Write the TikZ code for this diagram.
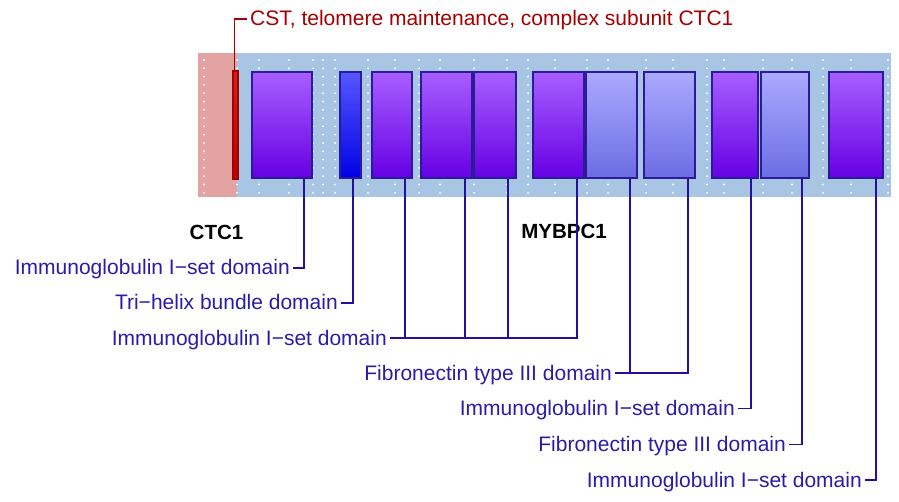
\documentclass[tikz,border=0pt]{standalone}
\usepackage{fontspec}
\setmainfont{Liberation Sans}
\definecolor{bgred}{HTML}{E4A3A3}
\definecolor{bgblue}{HTML}{A8C5E3}
\definecolor{labblue}{HTML}{2A1CA6}
\definecolor{lineblue}{HTML}{2410A0}
\definecolor{edgeblue}{HTML}{2B1B9B}
\definecolor{darkred}{HTML}{A50000}
\definecolor{purptop}{RGB}{168,94,255}
\definecolor{purpbot}{RGB}{102,0,228}
\definecolor{litetop}{RGB}{170,170,255}
\definecolor{litebot}{RGB}{108,108,228}
\definecolor{blutop}{RGB}{86,86,255}
\definecolor{blubot}{RGB}{0,0,230}
\definecolor{redtop}{RGB}{215,30,30}
\definecolor{redbot}{RGB}{190,0,0}
\tikzset{
  dombox/.style={draw=edgeblue, line width=1.6pt, inner sep=0pt, minimum height=106pt},
  purp/.style={dombox, top color=purptop, bottom color=purpbot},
  lite/.style={dombox, top color=litetop, bottom color=litebot},
  blu/.style={dombox, top color=blutop, bottom color=blubot},
  redbox/.style={draw=darkred, line width=1.2pt, inner sep=0pt, minimum height=108pt, minimum width=5pt, top color=redtop, bottom color=redbot},
  conn/.style={draw=lineblue, line width=1.8pt},
  redconn/.style={draw=darkred, line width=1.6pt},
  lab/.style={text=labblue, font=\fontsize{21}{25}\selectfont, inner xsep=3pt, inner ysep=0pt},
  gene/.style={text=black, font=\fontsize{20.5}{25}\selectfont\bfseries, inner sep=0pt},
}
\begin{document}
\begin{tikzpicture}[x=1pt,y=-1pt]
\useasboundingbox (0,0) rectangle (899,502);
% backgrounds
\fill[bgred] (198,53) rectangle (237,197);
\fill[bgblue] (237,53) rectangle (891,197);
% dots
\foreach \xx in {204,237,259,289,313,323,335,368,395,419,440,474,507,528,555,587,608,646,673,707,724,763,792,823,851,888}{
  \foreach \k in {0,...,16}{
    \fill[white] (\xx,60+8.3*\k) circle (1.05pt);
  }
}
% gene names
\node[gene, anchor=base] (g1) at (216.5,240) {CTC1};
\node[gene, anchor=base] (g2) at (564,239) {MYBPC1};
% domain boxes
\node[redbox] (b0) at (235.5,125) {};
\node[purp, minimum width=60pt] (b1) at (282,125) {};
\node[blu,  minimum width=21pt] (b2) at (350.5,125) {};
\node[purp, minimum width=40pt] (b3) at (392,125) {};
\node[purp, minimum width=51pt] (b4) at (446.5,125) {};
\node[purp, minimum width=42pt] (b5) at (495,125) {};
\node[purp, minimum width=51pt] (b6) at (558.5,125) {};
\node[lite, minimum width=51pt] (b7) at (611.5,125) {};
\node[lite, minimum width=51pt] (b8) at (669.5,125) {};
\node[purp, minimum width=46pt] (b9) at (735,125) {};
\node[lite, minimum width=48pt] (b10) at (785,125) {};
\node[purp, minimum width=54pt] (b11) at (856,125) {};
% top red label
\node[text=darkred, font=\fontsize{21}{25}\selectfont, anchor=base west, inner xsep=3pt, inner ysep=0pt] (top) at (247,26) {CST, telomere maintenance, complex subunit CTC1};
\coordinate (t0) at (234.5,19);
\draw[redconn] (b0.north -| t0) -- (t0) -- (t0 -| top.west);
% labels
\node[lab, anchor=base east] (l1) at (293,275) {Immunoglobulin I−set domain};
\node[lab, anchor=base east] (l2) at (341,310) {Tri−helix bundle domain};
\node[lab, anchor=base east] (l3) at (390,345) {Immunoglobulin I−set domain};
\node[lab, anchor=base east] (l4) at (615,380) {Fibronectin type III domain};
\node[lab, anchor=base east] (l5) at (738,415) {Immunoglobulin I−set domain};
\node[lab, anchor=base east] (l6) at (789,451) {Fibronectin type III domain};
\node[lab, anchor=base east] (l7) at (865,487) {Immunoglobulin I−set domain};
% connectors
\coordinate (c1) at (304,268);
\coordinate (c2) at (353,303);
\coordinate (c3a) at (405,338);
\coordinate (c3b) at (465,338);
\coordinate (c3c) at (508,338);
\coordinate (c3d) at (577,338);
\coordinate (c4a) at (630,373);
\coordinate (c4b) at (688,373);
\coordinate (c5) at (751,408.5);
\coordinate (c6) at (802,444.5);
\coordinate (c7) at (876,480);
\draw[conn] (b1.south -| c1) -- (c1) -- (c1 -| l1.east);
\draw[conn] (b2.south -| c2) -- (c2) -- (c2 -| l2.east);
\draw[conn] (b3.south -| c3a) -- (c3a);
\draw[conn] (b4.south -| c3b) -- (c3b);
\draw[conn] (b5.south -| c3c) -- (c3c);
\draw[conn] (b6.south -| c3d) -- (c3d) -- (c3d -| l3.east);
\draw[conn] (b7.south -| c4a) -- (c4a);
\draw[conn] (b8.south -| c4b) -- (c4b) -- (c4b -| l4.east);
\draw[conn] (b9.south -| c5) -- (c5) -- (c5 -| l5.east);
\draw[conn] (b10.south -| c6) -- (c6) -- (c6 -| l6.east);
\draw[conn] (b11.south -| c7) -- (c7) -- (c7 -| l7.east);
\end{tikzpicture}
\end{document}
